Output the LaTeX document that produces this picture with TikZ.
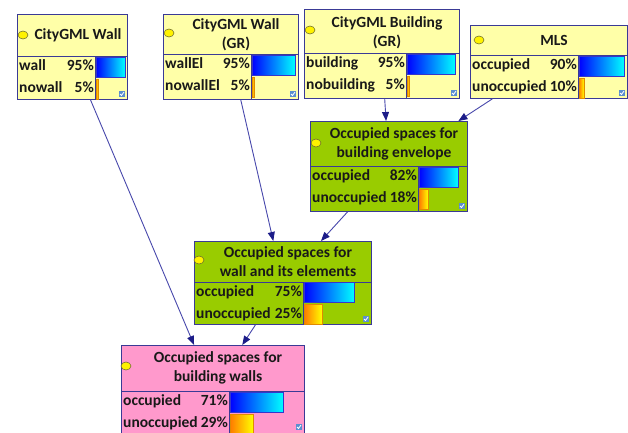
\documentclass[tikz,border=0pt]{standalone}
\usepackage{fontspec}
\setmainfont{Carlito}
\usetikzlibrary{arrows.meta,shapes.geometric}

\definecolor{paleyellow}{HTML}{FFFFA8}
\definecolor{leaf}{HTML}{99CC00}
\definecolor{rose}{HTML}{FF99CC}
\definecolor{frame}{HTML}{3A3A96}
\definecolor{barframe}{HTML}{3535CC}
\definecolor{linkline}{HTML}{4848AC}
\definecolor{linktip}{HTML}{1C1C88}
\definecolor{orangeframe}{HTML}{E08A00}
\definecolor{barorange}{HTML}{FF7A00}
\definecolor{tickblue}{HTML}{5B8FD0}
\definecolor{lampedge}{HTML}{6A6A30}

\newcommand\nodefont{\fontsize{15.5}{19}\selectfont\bfseries}

\tikzset{
  netbox/.style={rectangle, draw=frame, line width=0.8pt, inner sep=0pt, anchor=north west},
  divider/.style={draw=frame, line width=0.8pt},
  heading/.style={font=\nodefont, align=center, inner sep=0pt, text=black!90},
  rowtxt/.style={font=\nodefont, inner sep=0pt, text=black!90},
  bluebar/.style={draw=barframe, line width=0.7pt, left color=blue, right color=cyan},
  orangebar/.style={draw=orangeframe, line width=0.5pt, left color=barorange, right color=yellow},
  lamp/.style={ellipse, draw=lampedge, line width=0.5pt, fill=yellow, minimum width=10pt, minimum height=8pt, inner sep=0pt},
  link/.style={draw=linkline, line width=0.9pt, -{Triangle[length=9pt,width=7pt,color=linktip]}},
}

% two belief rows: #1 prefix, #2 left x, #3 divider x, #4 divider y, #5-#8 labels and values
\newcommand\beliefrows[8]{%
  \node[rowtxt, anchor=mid west] (#1la) at (#2+2, #4+12) {#5};
  \node[rowtxt, anchor=mid east] (#1pa) at (#3-1, #4+12) {#6};
  \node[rowtxt, anchor=mid west] (#1lb) at (#2+2, #4+34) {#7};
  \node[rowtxt, anchor=mid east] (#1pb) at (#3-1, #4+34) {#8};
}
% probability bars: #1 divider x, #2 divider y, #3 blue width, #4 orange width
\newcommand\beliefbars[4]{%
  \path[bluebar] (#1+1, #2+1) rectangle (#1+1+#3, #2+21);
  \path[orangebar] (#1+1, #2+23) rectangle (#1+1+#4, #2+43);
}
% small check box in the lower right corner: #1 right x, #2 bottom y
\newcommand\tickbox[2]{%
  \fill[tickblue] (#1-8, #2-8) rectangle (#1-2, #2-2);
  \draw[white, line width=0.8pt] (#1-7, #2-5) -- (#1-5.5, #2-3.5) -- (#1-3, #2-7);
}

\begin{document}
\begin{tikzpicture}[x=1pt, y=-1pt]
\clip (0,0) rectangle (628,432);
\fill[white] (0,0) rectangle (628,432);

% ---- CityGML Wall
\node[netbox, fill=paleyellow, minimum width=110pt, minimum height=85pt] (b1) at (17,14) {};
\draw[divider] (17,56) -- (127,56) (95,56) -- (95,99);
\node[lamp] (b1lamp) at (23,35) {};
\node[heading] (b1t) at (78,35) {CityGML Wall};
\beliefbars{95}{56}{29}{2}
\beliefrows{b1}{17}{95}{56}{wall}{95\%}{nowall}{5\%}
\tickbox{127}{99}

% ---- CityGML Wall (GR)
\node[netbox, fill=paleyellow, minimum width=135pt, minimum height=85pt] (b2) at (163,14) {};
\draw[divider] (163,54) -- (298,54) (251,54) -- (251,99);
\node[lamp] (b2lamp) at (169,33) {};
\node[heading] (b2t) at (236,34.5) {CityGML Wall\\(GR)};
\beliefbars{251}{54}{43}{2}
\beliefrows{b2}{163}{251}{54}{wallEl}{95\%}{nowallEl}{5\%}
\tickbox{298}{99}

% ---- CityGML Building (GR)
\node[netbox, fill=paleyellow, minimum width=155pt, minimum height=89pt] (b3) at (304,9) {};
\draw[divider] (304,53) -- (459,53) (406,53) -- (406,98);
\node[lamp] (b3lamp) at (310,30) {};
\node[heading] (b3t) at (387,32.5) {CityGML Building\\(GR)};
\beliefbars{406}{53}{48}{2}
\beliefrows{b3}{304}{406}{53}{building}{95\%}{nobuilding}{5\%}
\tickbox{459}{98}

% ---- MLS
\node[netbox, fill=paleyellow, minimum width=157pt, minimum height=73pt] (b4) at (470,25) {};
\draw[divider] (470,55) -- (627,55) (578,55) -- (578,98);
\node[lamp] (b4lamp) at (479,40) {};
\node[heading] (b4t) at (554,40) {MLS};
\beliefbars{578}{55}{45}{5}
\beliefrows{b4}{470}{578}{55}{occupied}{90\%}{unoccupied}{10\%}
\tickbox{627}{98}

% ---- Occupied spaces for building envelope
\node[netbox, fill=leaf, minimum width=157pt, minimum height=90pt] (b5) at (310,121) {};
\draw[divider] (310,166) -- (467,166) (418,166) -- (418,211);
\node[lamp] (b5lamp) at (316,143) {};
\node[heading] (b5t) at (394,144) {Occupied spaces for\\building envelope};
\beliefbars{418}{166}{39}{9}
\beliefrows{b5}{310}{418}{166}{occupied}{82\%}{unoccupied}{18\%}
\tickbox{467}{211}

% ---- Occupied spaces for wall and its elements
\node[netbox, fill=leaf, minimum width=177pt, minimum height=83pt] (b6) at (194,241) {};
\draw[divider] (194,282) -- (371,282) (303,282) -- (303,324);
\node[lamp] (b6lamp) at (199,260) {};
\node[heading] (b6t) at (288,262) {Occupied spaces for\\wall and its elements};
\beliefbars{303}{281}{50}{18}
\beliefrows{b6}{194}{303}{282}{occupied}{75\%}{unoccupied}{25\%}
\tickbox{371}{324}

% ---- Occupied spaces for building walls
\node[netbox, fill=rose, minimum width=183pt, minimum height=89pt] (b7) at (121,345) {};
\draw[divider] (121,391) -- (304,391) (229,391) -- (229,434);
\node[lamp] (b7lamp) at (126,366) {};
\node[heading] (b7t) at (218,368) {Occupied spaces for\\building walls};
\beliefbars{229}{391}{53}{23}
\beliefrows{b7}{121}{229}{391}{occupied}{71\%}{unoccupied}{29\%}
\tickbox{304}{432}

% ---- links between the nodes
\draw[link] (b1) -- (b7);
\draw[link] (b2) -- (b6);
\draw[link] (b3) -- (b5);
\draw[link] (b4) -- (b5);
\draw[link] (b5) -- (b6);
\draw[link] (b6) -- (b7);
\end{tikzpicture}
\end{document}
